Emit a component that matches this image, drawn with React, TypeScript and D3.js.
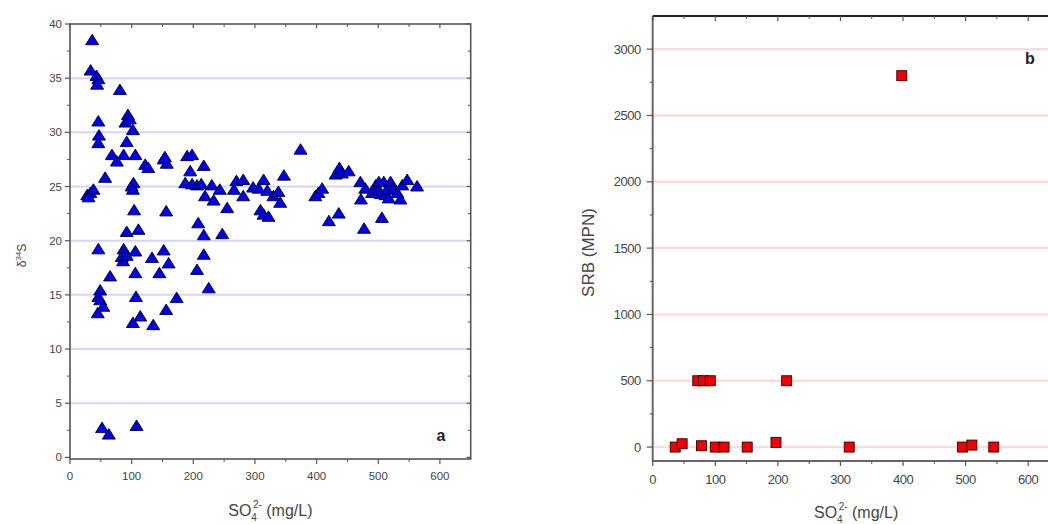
import React from "react";
import * as d3 from "d3";

// Panel a: SO4 (mg/L) vs δ34S
const sulfateA = [
  36, 33.5, 43, 46, 44, 81,
  46, 47, 46, 94, 90, 97, 102, 92,
  68, 76, 87, 106, 122, 127, 152, 157, 154,
  28, 33, 38, 30, 57, 100, 103, 102,
  104, 156, 92, 111,
  46, 87, 106, 84, 86, 92, 133, 152, 160, 145, 106, 65,
  49, 46, 49, 54, 45, 107, 173, 156, 114, 102, 135,
  52, 63, 108,
  190, 198, 195, 217, 187, 198, 206, 213, 219, 230, 233, 243, 255, 266, 270, 281, 281, 297, 306, 314, 309, 314, 322, 320, 330, 338, 341, 347, 374,
  208, 217, 247, 206, 217, 225,
  398, 403, 409, 420, 436, 431, 437, 441, 452, 471, 472, 477, 479, 490, 496, 498, 501, 504, 506, 509, 512, 514, 517, 520, 525, 531, 536, 539, 547, 563,
];
const d34S = [
  38.5, 35.7, 35.2, 34.9, 34.4, 33.9,
  31.0, 29.7, 29.0, 31.6, 30.9, 31.2, 30.2, 29.1,
  27.9, 27.3, 27.9, 27.9, 27.0, 26.7, 27.5, 27.1, 27.7,
  24.2, 24.4, 24.7, 24.0, 25.8, 25.0, 25.3, 24.7,
  22.8, 22.7, 20.8, 21.0,
  19.2, 19.2, 19.0, 18.5, 18.1, 18.6, 18.4, 19.1, 17.9, 17.0, 17.0, 16.7,
  15.4, 14.8, 14.5, 13.9, 13.3, 14.8, 14.7, 13.6, 13.0, 12.4, 12.2,
  2.7, 2.1, 2.9,
  27.8, 27.9, 26.4, 26.9, 25.3, 25.2, 25.1, 25.2, 24.1, 25.1, 23.7, 24.7, 23.0, 24.7, 25.5, 25.6, 24.1, 24.9, 24.8, 25.6, 22.8, 22.4, 22.2, 24.6, 24.1, 24.5, 23.5, 26.0, 28.4,
  21.6, 20.5, 20.6, 17.3, 18.7, 15.6,
  24.1, 24.4, 24.8, 21.8, 22.5, 26.1, 26.7, 26.2, 26.4, 25.4, 23.8, 21.1, 24.8, 24.4, 25.1, 24.7, 25.4, 24.3, 22.1, 25.4, 24.2, 24.7, 23.9, 25.4, 24.8, 24.4, 23.8, 25.1, 25.6, 25.0,
];

// Panel b: SO4 (mg/L) vs SRB (MPN)
const sulfateB = [36, 47, 78, 100, 114, 151, 197, 314, 495, 510, 545, 72, 81, 92, 214, 398];
const srb = [0, 25, 10, 0, 0, 0, 35, 0, 0, 15, 0, 500, 500, 500, 500, 2800];

const xTicks = [0, 100, 200, 300, 400, 500, 600];
const yTicksA = [0, 5, 10, 15, 20, 25, 30, 35, 40];
const yTicksB = [0, 500, 1000, 1500, 2000, 2500, 3000];

const FONT = "Arial, 'Liberation Sans', sans-serif";
const AX = "#555";
const LBL = "#444";

function XLabel({ cx, y }: { cx: number; y: number }) {
  return (
    <text x={cx} y={y} textAnchor="middle" fontFamily={FONT} fontSize={16} fill={LBL}>
      SO
      <tspan fontSize={10} dy={5}>4</tspan>
      <tspan fontSize={10} dx={-4} dy={-13}>2-</tspan>
      <tspan dy={8}> (mg/L)</tspan>
    </text>
  );
}

function PanelA() {
  const L = 70, R = 470.7, T = 24, B = 459;
  const x = d3.scaleLinear().domain([0, 650]).range([L, R]);
  const y = d3.scaleLinear().domain([-0.15, 40]).range([B, T]);
  const minorY = d3.range(2.5, 40, 5);
  const minorX = d3.range(50, 650, 100);
  return (
    <g>
      {yTicksA.filter((v) => v > 0 && v < 40).map((v) => (
        <line key={"g" + v} x1={L} x2={R} y1={y(v)} y2={y(v)} stroke="#d4d4ff" strokeWidth={2} />
      ))}
      <rect x={L} y={T} width={R - L} height={B - T} fill="none" stroke={AX} strokeWidth={1.6} />
      {yTicksA.map((v) => (
        <g key={"yl" + v}>
          <line x1={L - 5} x2={L} y1={y(v)} y2={y(v)} stroke={AX} strokeWidth={1.2} />
          <line x1={R - 4} x2={R} y1={y(v)} y2={y(v)} stroke={AX} strokeWidth={1.2} />
          <text x={L - 8} y={y(v) + 4} textAnchor="end" fontFamily={FONT} fontSize={11.5} fill={LBL}>{v}</text>
        </g>
      ))}
      {minorY.map((v) => (
        <g key={"ym" + v}>
          <line x1={L - 3} x2={L} y1={y(v)} y2={y(v)} stroke={AX} strokeWidth={1} />
          <line x1={R - 3} x2={R} y1={y(v)} y2={y(v)} stroke={AX} strokeWidth={1} />
        </g>
      ))}
      {xTicks.map((v) => (
        <g key={"xl" + v}>
          <line x1={x(v)} x2={x(v)} y1={B} y2={B + 5} stroke={AX} strokeWidth={1.2} />
          <line x1={x(v)} x2={x(v)} y1={T} y2={T + 4} stroke={AX} strokeWidth={1.2} />
          <text x={x(v)} y={B + 21} textAnchor="middle" fontFamily={FONT} fontSize={11.5} fill={LBL}>{v}</text>
        </g>
      ))}
      {minorX.map((v) => (
        <g key={"xm" + v}>
          <line x1={x(v)} x2={x(v)} y1={B} y2={B + 3} stroke={AX} strokeWidth={1} />
          <line x1={x(v)} x2={x(v)} y1={T} y2={T + 3} stroke={AX} strokeWidth={1} />
        </g>
      ))}
      {sulfateA.map((s, i) => (
        <path
          key={"p" + i}
          transform={`translate(${x(s)},${y(d34S[i])})`}
          d="M0,-6L6.5,4.5L-6.5,4.5Z"
          fill="#0000e6"
          stroke="#00002a"
          strokeWidth={0.9}
        />
      ))}
      <text x={441} y={441} textAnchor="middle" fontFamily={FONT} fontSize={16} fontWeight="bold" fill="#222">a</text>
      <XLabel cx={(L + R) / 2} y={516} />
      <text transform={`translate(26,${(T + B) / 2 + 14}) rotate(-90)`} textAnchor="middle" fontFamily={FONT} fontSize={12} fill={LBL}>
        δ<tspan fontSize={8} dy={-5}>34</tspan><tspan dy={5}>S</tspan>
      </text>
    </g>
  );
}

function PanelB() {
  const L = 652.7, R = 1059.5, T = 16, B = 461;
  const x = d3.scaleLinear().domain([0, 650]).range([L, R]);
  const y = d3.scaleLinear().domain([-105, 3250]).range([B, T]);
  const minorY = d3.range(250, 3250, 500);
  const minorX = d3.range(50, 650, 100);
  return (
    <g>
      {yTicksB.map((v) => (
        <line key={"g" + v} x1={L} x2={R} y1={y(v)} y2={y(v)} stroke="#ffdcdc" strokeWidth={2.5} />
      ))}
      <line x1={L} x2={L} y1={T} y2={B} stroke="#666" strokeWidth={2} />
      <line x1={L} x2={R} y1={B} y2={B} stroke="#666" strokeWidth={2} />
      <line x1={L} x2={R} y1={T} y2={T} stroke="#222" strokeWidth={2} />
      {yTicksB.map((v) => (
        <g key={"yl" + v}>
          <line x1={L - 6} x2={L} y1={y(v)} y2={y(v)} stroke={AX} strokeWidth={1.2} />
          <text x={L - 12} y={y(v) + 4.5} textAnchor="end" fontFamily={FONT} fontSize={13} fill={LBL} letterSpacing={-0.5}>{v}</text>
        </g>
      ))}
      {minorY.map((v) => (
        <line key={"ym" + v} x1={L - 3} x2={L} y1={y(v)} y2={y(v)} stroke={AX} strokeWidth={1} />
      ))}
      {xTicks.map((v) => (
        <g key={"xl" + v}>
          <line x1={x(v)} x2={x(v)} y1={B} y2={B + 5} stroke={AX} strokeWidth={1.2} />
          <line x1={x(v)} x2={x(v)} y1={T} y2={T + 5} stroke={AX} strokeWidth={1.2} />
          <text x={x(v)} y={B + 23} textAnchor="middle" fontFamily={FONT} fontSize={13} fill={LBL} letterSpacing={-0.5}>{v}</text>
        </g>
      ))}
      {minorX.map((v) => (
        <g key={"xm" + v}>
          <line x1={x(v)} x2={x(v)} y1={B} y2={B + 3} stroke={AX} strokeWidth={1} />
          <line x1={x(v)} x2={x(v)} y1={T} y2={T + 3} stroke={AX} strokeWidth={1} />
        </g>
      ))}
      {sulfateB.map((s, i) => (
        <rect
          key={"p" + i}
          x={x(s) - 5}
          y={y(srb[i]) - 5}
          width={10}
          height={10}
          fill="#ee0000"
          stroke="#300"
          strokeWidth={0.9}
        />
      ))}
      <text x={1030} y={64} textAnchor="middle" fontFamily={FONT} fontSize={16} fontWeight="bold" fill="#222">b</text>
      <XLabel cx={(L + R) / 2} y={518} />
      <text transform={`translate(594,${(T + B) / 2 + 14}) rotate(-90)`} textAnchor="middle" fontFamily={FONT} fontSize={17} fill={LBL}>
        SRB (MPN)
      </text>
    </g>
  );
}

export default function App() {
  return (
    <svg
      width={1048}
      height={524}
      style={{ position: "absolute", left: 0, top: 0, background: "#fff" }}
    >
      <rect x={0} y={0} width={1048} height={524} fill="#fff" />
      <PanelA />
      <PanelB />
    </svg>
  );
}
